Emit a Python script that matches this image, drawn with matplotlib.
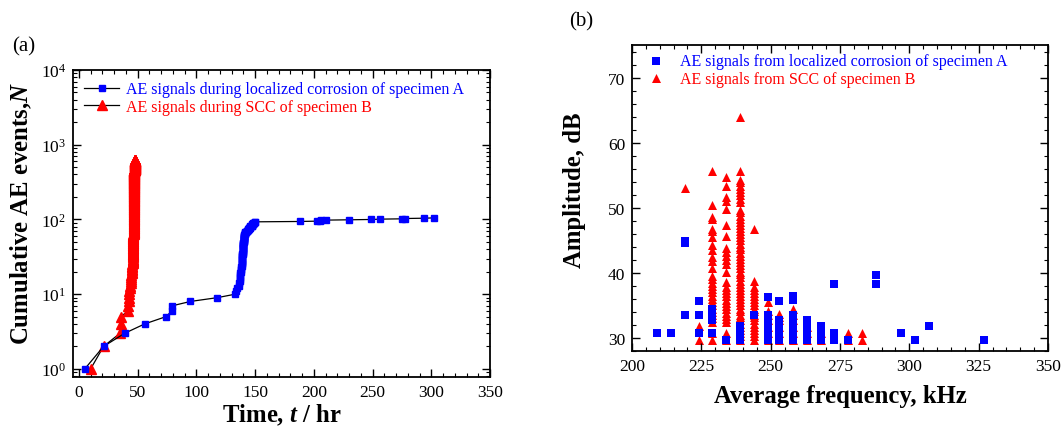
import matplotlib
matplotlib.use('Agg')
import matplotlib.pyplot as plt
from matplotlib.ticker import MultipleLocator, LogLocator, NullFormatter
import numpy as np

plt.rcParams['font.family'] = ['Liberation Serif', 'DejaVu Serif']
plt.rcParams['mathtext.fontset'] = 'custom'
plt.rcParams['mathtext.rm'] = 'Liberation Serif'
plt.rcParams['mathtext.it'] = 'Liberation Serif:italic:bold'
plt.rcParams['mathtext.bf'] = 'Liberation Serif:bold'

# (a) cumulative AE events: event times and number of events logged at each time
A_times = [5, 21, 39, 56, 74, 79.5, 95, 118, 133, 134, 135, 136, 137, 137.5, 138, 138.5,
           139, 139.5, 140, 140.5, 141, 141.5, 142, 143, 144, 145, 146, 147, 148, 149, 150,
           188, 203, 205, 206, 210, 230, 249, 256, 275, 278, 294, 302]
A_events = [1, 1, 1, 1, 1, 2, 1, 1, 1, 1, 1, 2, 2, 3, 4, 5,
            6, 7, 8, 7, 6, 5, 2, 2, 3, 3, 4, 5, 3, 2, 2,
            1, 1, 1, 1, 1, 1, 1, 1, 1, 1, 1, 1]

B_times = [10, 21, 35, 36, 41.5, 42, 42.5, 43, 43.5, 44, 44.5, 45, 45.5, 46, 46.5, 47, 47.5]
B_events = [1, 1, 1, 2, 1, 1, 2, 2, 2, 2, 3, 3, 4, 8, 30, 400, 160]

# (b) amplitude vs average frequency
A_freq = [209, 214, 219, 219, 219, 224, 224, 224, 229, 229, 229, 229, 234, 239, 239, 239, 244,
          249, 249, 249, 249, 249, 249, 253, 253, 253, 253, 253,
          258, 258, 258, 258, 258, 258, 258, 263, 263, 263, 263, 268, 268, 268,
          273, 273, 273, 278, 288, 288, 297, 302, 307, 327]
A_amp = [30.8, 30.8, 33.6, 44.6, 44.9, 30.8, 33.6, 35.7, 30.8, 32.7, 33.6, 34.5, 29.7,
         29.7, 30.8, 31.8, 33.6,
         29.7, 30.8, 31.8, 32.7, 33.6, 36.3, 29.7, 30.8, 31.8, 32.7, 35.7,
         29.7, 30.8, 31.8, 32.7, 33.6, 35.9, 36.4, 29.7, 30.8, 31.8, 32.8, 29.7, 30.8, 31.8,
         29.7, 30.8, 38.3, 29.7, 38.3, 39.6, 30.8, 29.7, 31.8, 29.7]

B_cols = [219, 224, 229, 234, 239, 244, 249, 253, 258, 263, 268, 278, 283]
B_amps = [
    [53.1],
    [29.7, 31.8],
    [29.7, 30.8, 32.5, 33.0, 33.5, 34.0, 34.5, 35.0, 35.5, 36.0, 36.5, 37.0, 37.5, 38.0,
     38.5, 39.0, 39.5, 40.8, 41.8, 42.5, 43.5, 44.3, 45.5, 46.5, 46.8, 48.3, 48.6, 50.5, 55.6],
    [29.7, 30.8, 32.4, 32.9, 33.4, 33.9, 34.4, 34.9, 35.4, 35.9, 36.4, 36.9, 37.4, 37.9,
     38.6, 40.1, 41.4, 42.0, 42.6, 43.2, 43.8, 45.7, 47.3, 49.8, 51.1, 51.6, 53.4, 54.7],
    [29.7, 30.3, 30.8, 31.3, 31.7, 32.2, 32.7, 33.2, 33.6, 34.1, 34.5, 35.0, 35.5, 36.0,
     36.4, 36.9, 37.4, 37.9, 38.3, 38.8, 39.3, 39.8, 40.2, 40.7, 41.2, 41.7, 42.1, 42.6,
     43.1, 43.6, 44.0, 44.5, 45.0, 45.5, 45.9, 46.4, 46.9, 47.4, 47.8, 48.3, 48.8, 49.3,
     49.7, 50.9, 51.4, 51.9, 52.4, 52.9, 53.4, 53.9, 54.3, 55.7, 64.0],
    [29.7, 30.3, 30.8, 31.3, 31.7, 32.2, 32.7, 33.2, 33.6, 34.1, 34.5, 35.0, 35.5, 36.0,
     36.4, 36.9, 37.4, 37.9, 38.8, 46.7],
    [29.7, 30.8, 31.7, 32.7, 33.6, 34.2, 35.6],
    [29.7, 30.8, 31.7, 32.7, 33.2, 33.7],
    [29.7, 30.8, 31.7, 32.7, 33.6, 34.4],
    [29.7, 30.8, 31.7],
    [29.7, 30.8],
    [29.7, 30.8],
    [29.7, 30.8],
]

blue = '#0000ff'
red = '#ff0000'

fig = plt.figure(figsize=(10.63, 4.27), dpi=100)
W, H = 1063, 427
ax1 = fig.add_axes([73 / W, 1 - 378 / H, (490 - 73) / W, (378 - 71) / H])
ax2 = fig.add_axes([632 / W, 1 - 352 / H, (1048 - 632) / W, (352 - 46) / H])

# expand events into one point per event
tA = np.repeat(A_times, A_events)
nA = np.arange(1, len(tA) + 1)
tB = np.repeat(B_times, B_events)
nB = np.arange(1, len(tB) + 1)

lB, = ax1.plot(tB, nB, color='black', lw=0.9, marker='^', ms=6.5, mfc=red, mec=red,
               label='AE signals during SCC of specimen B')
lA, = ax1.plot(tA, nA, color='black', lw=0.9, marker='s', ms=5, mfc=blue, mec=blue,
               label='AE signals during localized corrosion of specimen A')
ax1.set_yscale('log')
ax1.set_xlim(-5, 350)
ax1.set_ylim(0.78, 1e4)
ax1.xaxis.set_major_locator(MultipleLocator(50))
ax1.xaxis.set_minor_locator(MultipleLocator(10))
ax1.yaxis.set_major_locator(LogLocator(base=10, numticks=10))
ax1.yaxis.set_minor_locator(LogLocator(base=10, subs=np.arange(2, 10), numticks=20))
ax1.yaxis.set_minor_formatter(NullFormatter())
ax1.set_xlabel('Time, $t$ / hr', fontsize=17.8, fontweight='bold', labelpad=1)
ax1.set_ylabel('Cumulative AE events,$N$', fontsize=17.8, fontweight='bold')
ax1.yaxis.set_label_coords(-0.094, 0.537)
leg1 = ax1.legend(handles=[lA, lB], loc='upper left', frameon=False, fontsize=11.5,
                  handlelength=2.2, handletextpad=0.4, borderaxespad=0.3,
                  labelspacing=0.1)
for txt, c in zip(leg1.get_texts(), [blue, red]):
    txt.set_color(c)

ax2.scatter(np.repeat(B_cols, [len(a) for a in B_amps]), np.concatenate(B_amps),
            marker='^', s=42, color=red, linewidths=0, label='AE signals from SCC of specimen B')
ax2.scatter(A_freq, A_amp, marker='s', s=30, color=blue, linewidths=0,
            label='AE signals from localized corrosion of specimen A')
ax2.set_xlim(200, 350)
ax2.set_ylim(28, 75)
ax2.xaxis.set_major_locator(MultipleLocator(25))
ax2.xaxis.set_minor_locator(MultipleLocator(5))
ax2.yaxis.set_major_locator(MultipleLocator(10))
ax2.yaxis.set_minor_locator(MultipleLocator(2))
ax2.set_xlabel('Average frequency, kHz', fontsize=17.8, fontweight='bold', labelpad=7)
ax2.set_ylabel('Amplitude, dB', fontsize=17.8, fontweight='bold')
ax2.yaxis.set_label_coords(-0.11, 0.529)
h, l = ax2.get_legend_handles_labels()
leg2 = ax2.legend(h[::-1], l[::-1], loc='upper left', frameon=False, fontsize=11.5,
                  handletextpad=0.5, borderaxespad=0.1, labelspacing=0.1,
                  bbox_to_anchor=(0.0, 1.0))
for txt, c in zip(leg2.get_texts(), [blue, red]):
    txt.set_color(c)

for ax in (ax1, ax2):
    ax.tick_params(which='both', direction='in', top=True, right=True, labelsize=12.5)
    ax.tick_params(which='major', length=6, width=1, pad=5)
    ax.tick_params(which='minor', length=3, width=0.8)
    for s in ax.spines.values():
        s.set_linewidth(1.3)

fig.text(12 / W, 1 - 47 / H, '(a)', fontsize=15, va='center', ha='left')
fig.text(569 / W, 1 - 22 / H, '(b)', fontsize=15, va='center', ha='left')

fig.savefig('out.png', dpi=100)
